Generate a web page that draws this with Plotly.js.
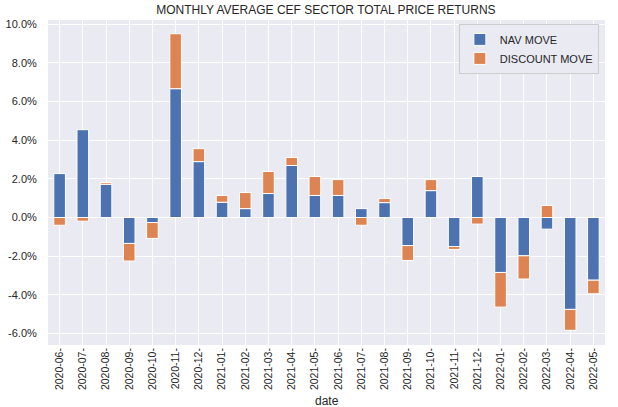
<!DOCTYPE html>
<html>
<head>
<meta charset="utf-8">
<script src="https://cdn.plot.ly/plotly-3.0.1.min.js"></script>
<style>
  html, body { margin: 0; padding: 0; background: #fff; }
  #chart { width: 618px; height: 407px; }
</style>
</head>
<body>
<div id="chart"></div>
<script>
var months = ['2020-06','2020-07','2020-08','2020-09','2020-10','2020-11','2020-12',
              '2021-01','2021-02','2021-03','2021-04','2021-05','2021-06','2021-07',
              '2021-08','2021-09','2021-10','2021-11','2021-12','2022-01','2022-02',
              '2022-03','2022-04','2022-05'];

// percent
var navMove = [2.27, 4.54, 1.72, -1.34, -0.26, 6.66, 2.89,
               0.79, 0.46, 1.24, 2.69, 1.14, 1.14, 0.46,
               0.77, -1.45, 1.39, -1.50, 2.12, -2.84, -1.98,
               -0.60, -4.75, -3.24];

var discountMove = [-0.40, -0.19, 0.09, -0.91, -0.82, 2.84, 0.67,
                    0.35, 0.83, 1.14, 0.41, 0.98, 0.82, -0.40,
                    0.21, -0.77, 0.57, -0.15, -0.34, -1.79, -1.20,
                    0.62, -1.08, -0.70];

var yTicks = [-6, -4, -2, 0, 2, 4, 6, 8, 10];
var yTickText = ['-6.0%', '-4.0%', '-2.0%', '0.0%', '2.0%', '4.0%', '6.0%', '8.0%', '10.0%'];
var xTickText = months.map(function (m) { return m + '-'; });

var data = [{
  type: 'bar',
  name: 'NAV MOVE',
  x: months,
  y: navMove,
  marker: {color: '#4C72B0', line: {color: 'white', width: 1}}
}, {
  type: 'bar',
  name: 'DISCOUNT MOVE',
  x: months,
  y: discountMove,
  marker: {color: '#DD8452', line: {color: 'white', width: 1}}
}];

var layout = {
  width: 618,
  height: 407,
  barmode: 'relative',
  bargap: 0.5,
  paper_bgcolor: 'white',
  plot_bgcolor: '#EAEAF2',
  font: {family: 'Liberation Sans, Arial', size: 11, color: '#262626'},
  margin: {l: 48, r: 13, t: 20, b: 62},
  title: {
    text: 'MONTHLY AVERAGE CEF SECTOR TOTAL PRICE RETURNS',
    font: {size: 12, color: '#262626'},
    x: 0.5274, xanchor: 'center',
    y: 0.975, yanchor: 'middle'
  },
  xaxis: {
    type: 'category',
    tickvals: months,
    ticktext: xTickText,
    tickangle: -90,
    range: [-0.5, 23.5],
    showgrid: true,
    gridcolor: 'white',
    gridwidth: 1,
    zeroline: false,
    showline: false,
    ticks: '',
    tickfont: {size: 10.5, color: '#262626'}
  },
  yaxis: {
    range: [-6.59, 10.21],
    tickvals: yTicks,
    ticktext: yTickText,
    showgrid: true,
    gridcolor: 'white',
    gridwidth: 1,
    zeroline: false,
    showline: false,
    ticks: 'outside',
    ticklen: 8,
    tickcolor: 'rgba(0,0,0,0)',
    tickfont: {size: 11, color: '#262626'}
  },
  annotations: [{
    text: 'date',
    xref: 'paper', yref: 'paper',
    x: 0.5, y: 0,
    xanchor: 'center', yanchor: 'middle',
    yshift: -56,
    showarrow: false,
    font: {size: 12, color: '#262626'}
  }],
  legend: {
    x: 0.989, xanchor: 'right',
    y: 0.988, yanchor: 'top',
    bgcolor: '#EAEAF2',
    bordercolor: '#CCCCCC',
    borderwidth: 1,
    font: {size: 11, color: '#262626'},
    traceorder: 'normal'
  },
  showlegend: true
};

Plotly.newPlot('chart', data, layout, {displayModeBar: false, staticPlot: true});
</script>
</body>
</html>
